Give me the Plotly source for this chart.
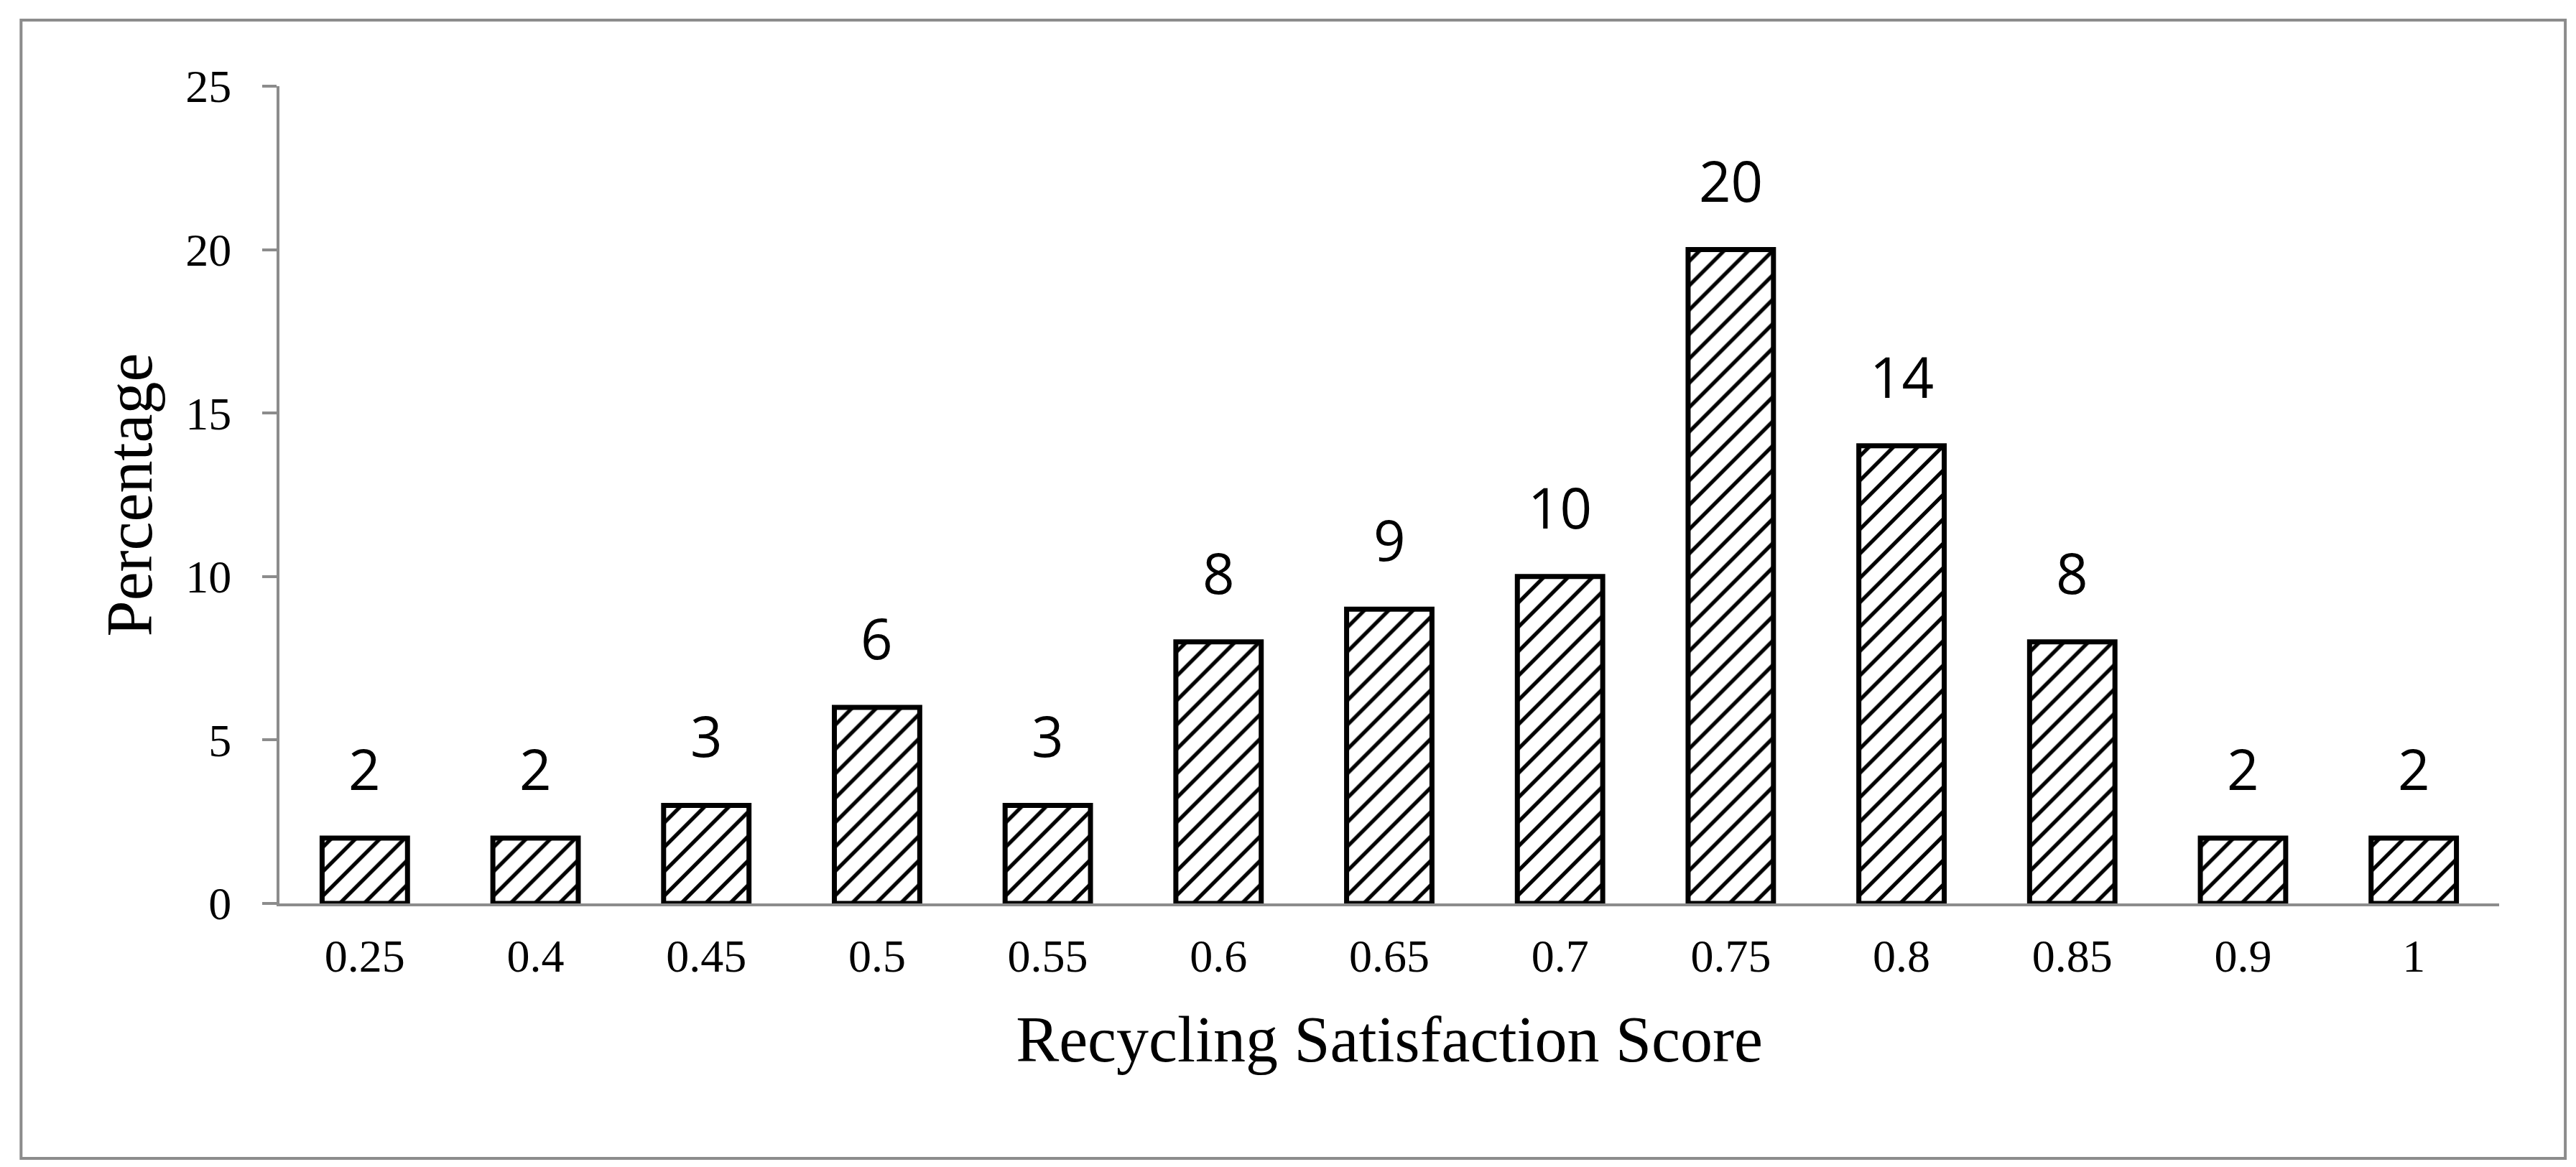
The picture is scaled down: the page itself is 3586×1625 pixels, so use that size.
import plotly.graph_objects as go

# Recycling satisfaction score distribution
scores = ["0.25", "0.4", "0.45", "0.5", "0.55", "0.6", "0.65",
          "0.7", "0.75", "0.8", "0.85", "0.9", "1"]
percentages = [2, 2, 3, 6, 3, 8, 9, 10, 20, 14, 8, 2, 2]
y_ticks = [0, 5, 10, 15, 20, 25]

axis_grey = "#8c8c8c"
serif = "Liberation Serif"

fig = go.Figure()
fig.add_trace(go.Bar(
    x=scores,
    y=percentages,
    marker=dict(
        color="white",
        line=dict(color="black", width=7),
        pattern=dict(shape="/", fgcolor="black", bgcolor="white",
                     size=24, solidity=0.22, fillmode="replace"),
    ),
    showlegend=False,
    hoverinfo="x+y",
))

# value labels floating above each bar (category index on the x axis)
annotations = [
    dict(x=i, y=p, text=str(p), showarrow=False, xref="x", yref="y",
         yanchor="middle", yshift=97,
         font=dict(family="Open Sans", size=78, color="black"))
    for i, p in enumerate(percentages)
]

fig.update_layout(
    width=3586,
    height=1625,
    margin=dict(l=381, r=115, t=112, b=375),
    paper_bgcolor="white",
    plot_bgcolor="white",
    bargap=0.5,
    annotations=annotations,
    shapes=[dict(type="rect", xref="paper", yref="paper",
                 x0=-0.1164, x1=1.0298, y0=-0.312, y1=1.0808,
                 line=dict(color=axis_grey, width=4), layer="below")],
    xaxis=dict(
        type="category",
        range=[-0.5, len(scores) - 0.5],
        showline=True, linecolor=axis_grey, linewidth=4,
        showgrid=False, zeroline=False, ticks="",
        ticklabelstandoff=14,
        tickfont=dict(family=serif, size=64, color="black"),
        title=dict(text="Recycling Satisfaction Score", standoff=50,
                   font=dict(family=serif, size=90, color="black")),
    ),
    yaxis=dict(
        range=[0, 25],
        tickvals=y_ticks,
        showline=True, linecolor=axis_grey, linewidth=4,
        showgrid=False, zeroline=False,
        ticks="outside", ticklen=20, tickwidth=4, tickcolor=axis_grey,
        ticklabelstandoff=30,
        tickfont=dict(family=serif, size=64, color="black"),
        title=dict(text="Percentage", standoff=18,
                   font=dict(family=serif, size=90, color="black")),
    ),
)

fig.write_html("out.html")
